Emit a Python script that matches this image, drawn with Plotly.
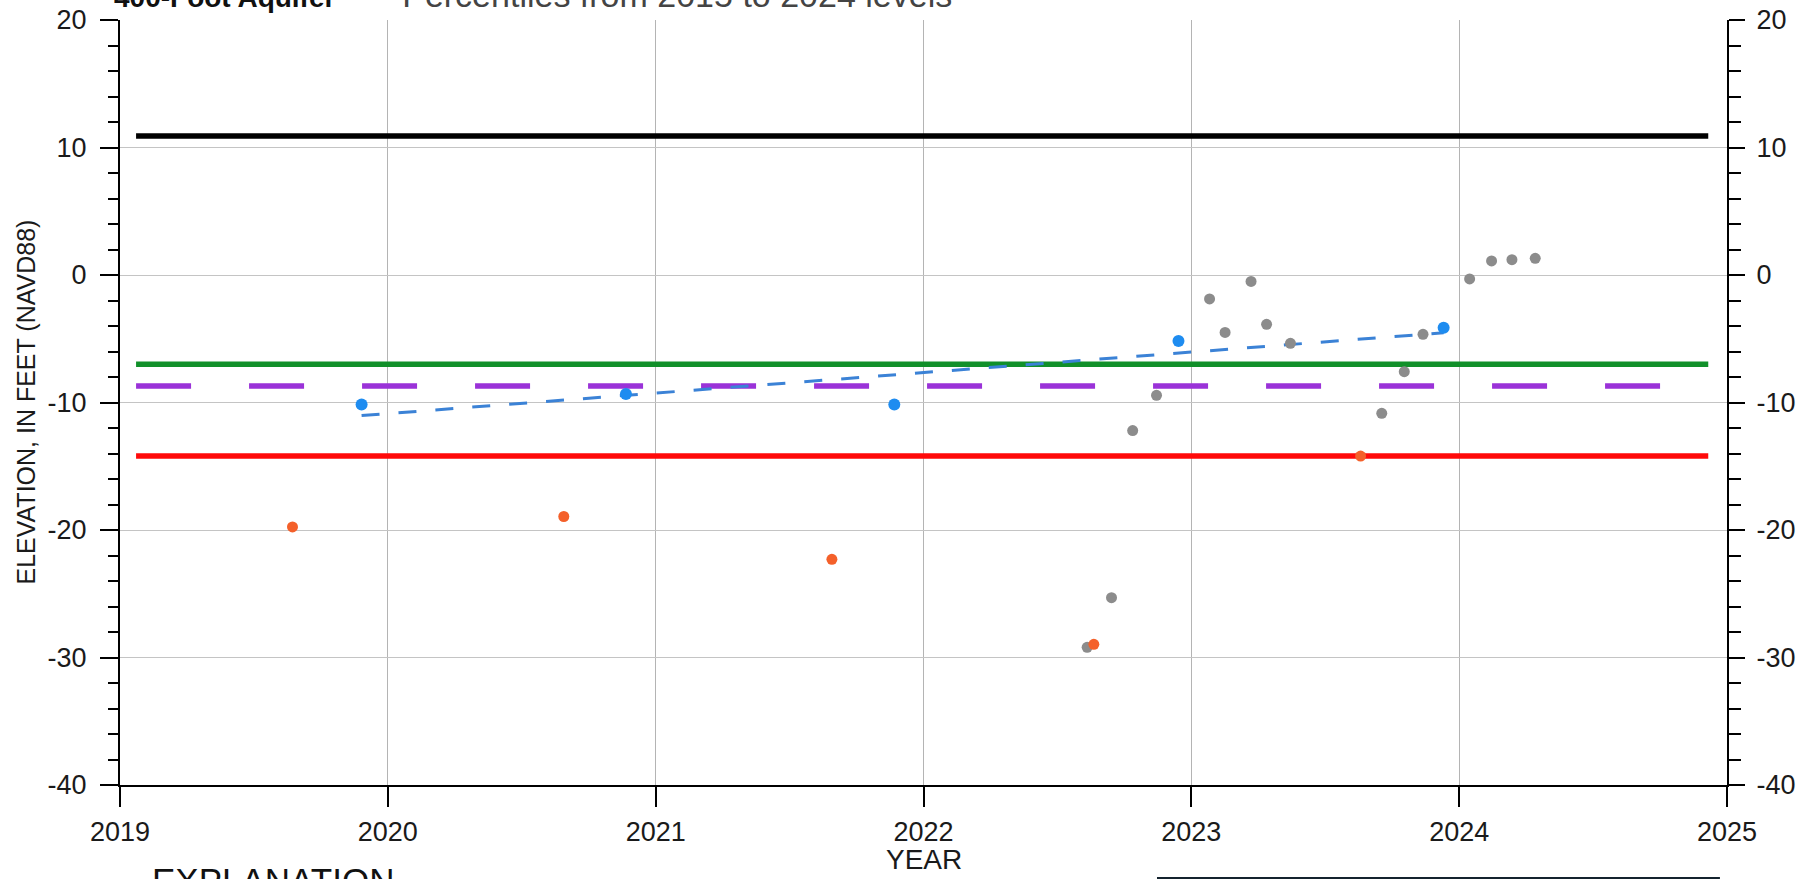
import numpy as np
import plotly.graph_objects as go

# Water-level measurements, decimal years and elevation in feet (NAVD88)
spring_years = [2019.902, 2020.889, 2021.891, 2022.952, 2023.942]
spring_levels = [-10.16, -9.33, -10.16, -5.17, -4.13]

fall_years = [2019.644, 2020.657, 2021.658, 2022.636, 2023.632]
fall_levels = [-19.76, -18.94, -22.30, -28.97, -14.20]

monthly_years = [2022.611, 2022.702, 2022.781, 2022.870, 2023.068, 2023.126,
                 2023.223, 2023.281, 2023.370, 2023.711, 2023.795, 2023.865,
                 2024.039, 2024.121, 2024.197, 2024.284]
monthly_levels = [-29.20, -25.31, -12.20, -9.44, -1.88, -4.50,
                  -0.50, -3.87, -5.36, -10.85, -7.58, -4.65,
                  -0.31, 1.10, 1.20, 1.31]

# Reference elevations drawn across the record
ref_names = ["Ground surface", "Minimum threshold", "Measurable objective", "Interim milestone"]
ref_levels = [10.9, -7.0, -8.7, -14.2]
ref_colors = ["#000000", "#11902a", "#9a32d8", "#ff0a0a"]
ref_dash = ["solid", "solid", "55px,58px", "solid"]
ref_start, ref_end = 2019.06, 2024.93

year_ticks = [2019, 2020, 2021, 2022, 2023, 2024, 2025]
elev_ticks = [-40, -30, -20, -10, 0, 10, 20]

FONT = "Liberation Sans, Arial, sans-serif"

fig = go.Figure()

for name, lvl, col, dash in zip(ref_names, ref_levels, ref_colors, ref_dash):
    fig.add_trace(go.Scatter(
        x=[ref_start, ref_end], y=[lvl, lvl], mode="lines", name=name,
        line=dict(color=col, width=5.5, dash=dash), hoverinfo="skip",
    ))

# Least-squares trend through the spring measurements
coef = np.polyfit(spring_years, spring_levels, 1)
trend_x = [spring_years[0], spring_years[-1]]
trend_y = list(np.polyval(coef, trend_x))
fig.add_trace(go.Scatter(
    x=trend_x, y=trend_y, mode="lines", name="Spring trend",
    line=dict(color="#3b82d6", width=3, dash="18px,19px"),
))

fig.add_trace(go.Scatter(
    x=monthly_years, y=monthly_levels, mode="markers", name="Monthly",
    marker=dict(color="#8c8c8c", size=11),
))
fig.add_trace(go.Scatter(
    x=fall_years, y=fall_levels, mode="markers", name="Fall",
    marker=dict(color="#f4602a", size=11),
))
fig.add_trace(go.Scatter(
    x=spring_years, y=spring_levels, mode="markers", name="Spring",
    marker=dict(color="#1e8cf0", size=12),
))
# keeps the right-hand elevation axis active
fig.add_trace(go.Scatter(x=[None], y=[None], yaxis="y2", showlegend=False, hoverinfo="skip"))

tickfont = dict(family=FONT, size=27, color="#1a1a1a")
elev_text = [str(v) for v in elev_ticks]
minor_y = dict(dtick=2, ticks="outside", tickwidth=2, tickcolor="#000", showgrid=False)

fig.update_layout(
    width=1812, height=879,
    margin=dict(l=120, r=85, t=20, b=94),
    paper_bgcolor="white", plot_bgcolor="white",
    showlegend=False,
    xaxis=dict(
        range=[2019, 2025], tickvals=year_ticks, ticktext=[str(y) for y in year_ticks],
        ticks="outside", ticklen=20, tickwidth=2, tickcolor="#000",
        showline=True, linecolor="#000", linewidth=2,
        showgrid=True, gridcolor="#b4b4b4", gridwidth=1, zeroline=False,
        tickfont=tickfont, ticklabelstandoff=2, automargin=False,
    ),
    yaxis=dict(
        range=[-40, 20], tickvals=elev_ticks, ticktext=elev_text,
        ticks="outside", ticklen=18, tickwidth=2, tickcolor="#000",
        minor=dict(ticklen=10, **minor_y),
        showline=True, linecolor="#000", linewidth=2,
        showgrid=True, gridcolor="#c4c4c4", gridwidth=1, zeroline=False,
        tickfont=tickfont, ticklabelstandoff=8, automargin=False,
    ),
    yaxis2=dict(
        range=[-40, 20], tickvals=elev_ticks, ticktext=elev_text,
        overlaying="y", side="right",
        ticks="outside", ticklen=16, tickwidth=2, tickcolor="#000",
        minor=dict(ticklen=12, **minor_y),
        showline=True, linecolor="#000", linewidth=2,
        showgrid=False, zeroline=False,
        tickfont=tickfont, ticklabelstandoff=6, automargin=False,
    ),
)

fig.add_annotation(
    text="ELEVATION, IN FEET (NAVD88)", textangle=-90,
    xref="paper", yref="paper", x=-0.0591, y=0.5, xanchor="center", yanchor="middle",
    showarrow=False, font=dict(family=FONT, size=25, color="#1a1a1a"),
)
fig.add_annotation(
    text="<b>400-Foot Aquifer</b>   <span style='font-size:34px;color:#444'>\u2014 Percentiles from 2015 to 2024 levels</span>",
    xref="paper", yref="paper", x=-0.005, y=1.0052, xanchor="left", yanchor="bottom",
    showarrow=False, font=dict(family=FONT, size=28, color="#111"),
)
fig.add_annotation(
    text="YEAR", xref="paper", yref="paper", x=0.5, y=-0.0980, xanchor="center", yanchor="middle",
    showarrow=False, font=dict(family=FONT, size=28, color="#1a1a1a"),
)
fig.add_annotation(
    text="EXPLANATION", xref="paper", yref="paper", x=0.0187, y=-0.097, xanchor="left", yanchor="top",
    showarrow=False, font=dict(family=FONT, size=35, color="#111"),
)
# top edge of the explanation box
fig.add_shape(type="line", xref="paper", yref="paper", x0=0.6453, x1=0.9956, y0=-0.1222, y1=-0.1222,
              line=dict(color="#14232e", width=3))

fig.write_html("out.html")
